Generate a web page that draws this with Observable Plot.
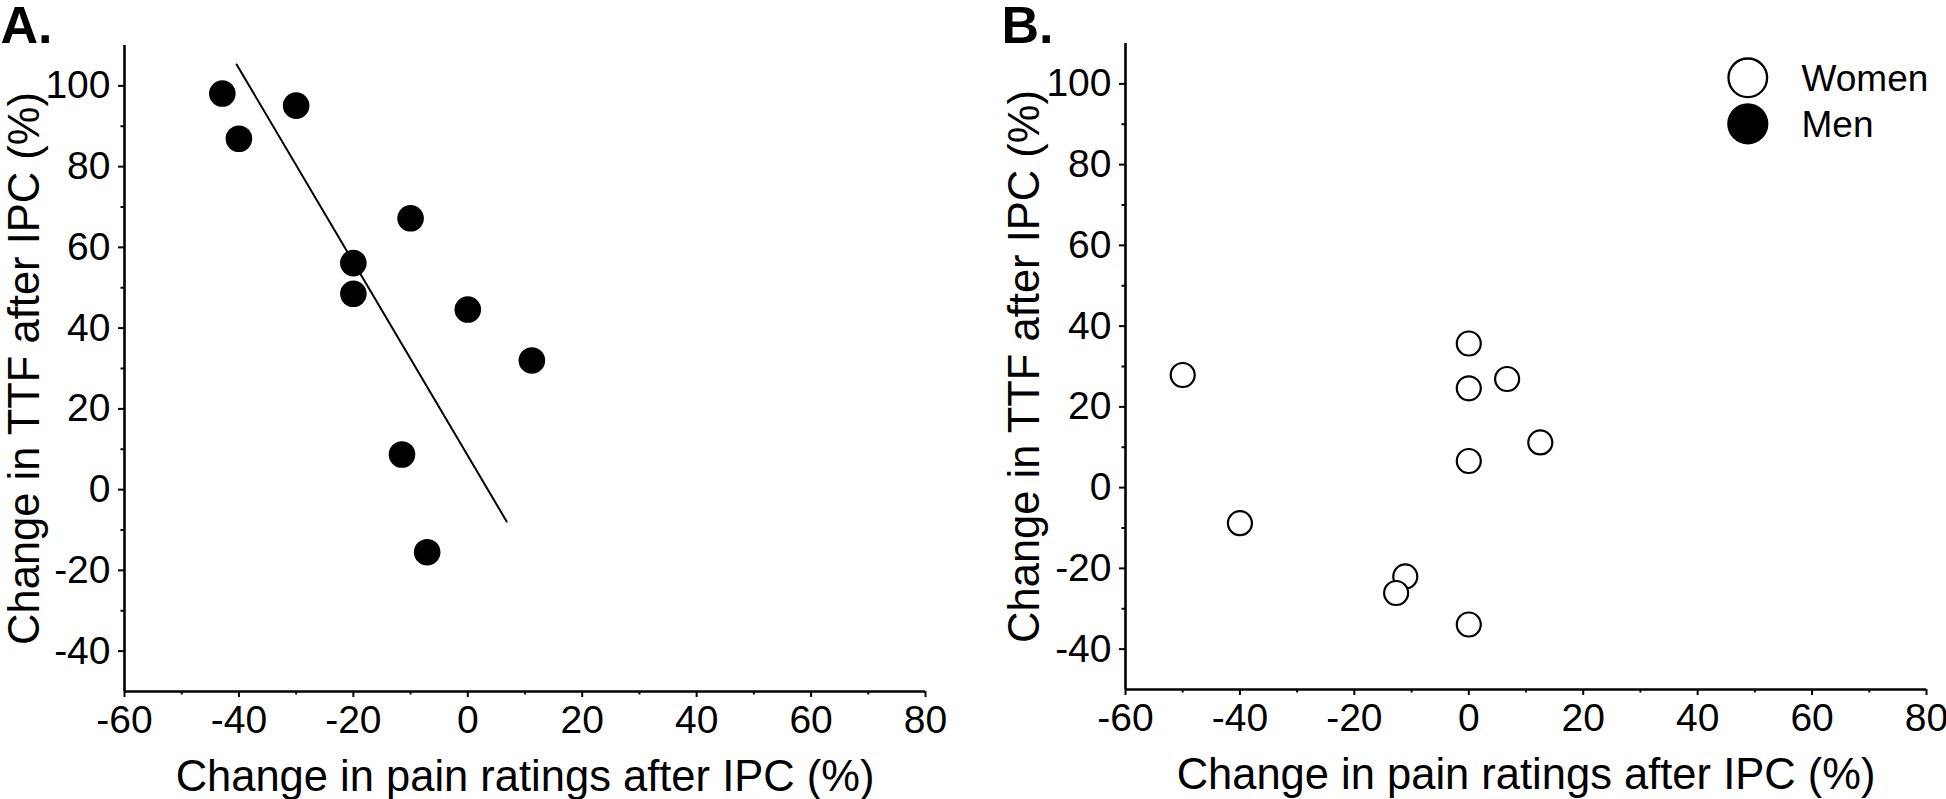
<!DOCTYPE html>
<html>
<head>
<meta charset="utf-8">
<script src="https://cdn.jsdelivr.net/npm/d3@7"></script>
<script src="https://cdn.jsdelivr.net/npm/@observablehq/plot@0.6"></script>
<style>
  html, body { margin: 0; padding: 0; background: #fff; }
  #wrap { position: relative; width: 1946px; height: 799px; overflow: hidden; background: #fff; }
  #panelA { position: absolute; left: 0; top: 0; }
  #panelB { position: absolute; left: 1000px; top: 0; }
</style>
</head>
<body>
<div id="wrap">
  <div id="panelA"></div>
  <div id="panelB"></div>
</div>
<script>
// ---- Data ----
const menPain = [-42.9, -40, -30, -10, -20, -20, 0, 11.2, -11.5, -7.1];
const menTTF  = [98.1, 86.9, 95.1, 67.2, 56.1, 48.5, 44.6, 32.0, 8.7, -15.5];

const womenPain = [-50, 0, 0, 6.7, 0, -40, -11.1, -12.7, 0, 12.5];
const womenTTF  = [27.9, 35.7, 24.6, 26.9, 6.6, -8.8, -22.0, -26.1, -33.9, 11.2];

// regression line endpoints (panel A)
const fitPain = [-40.4, 6.8];
const fitTTF  = [105.3, -7.9];

const xMajorTicks = [-60, -40, -20, 0, 20, 40, 60, 80];
const xMinorTicks = [-50, -30, -10, 10, 30, 50, 70];
const yMajorTicks = [-40, -20, 0, 20, 40, 60, 80, 100];
const yMinorTicks = [-30, -10, 10, 30, 50, 70, 90];

const xDomain = [-60, 80];
const yDomain = [-50, 110];

const xLabel = "Change in pain ratings after IPC (%)";
const yLabel = "Change in TTF after IPC (%)";
const legendLabels = ["Women", "Men"];

// ---- Tables ----
const men = menPain.map((p, i) => ({pain: p, ttf: menTTF[i]}));
const women = womenPain.map((p, i) => ({pain: p, ttf: womenTTF[i]}));
const fit = fitPain.map((p, i) => ({pain: p, ttf: fitTTF[i]}));

const FONT = "'Liberation Sans', Arial, Helvetica, sans-serif";
const fmt = d => String(d);
const TICK_FONT = 39;

function axes(labelDx) {
  return [
    Plot.ruleX([xDomain[0]], {stroke: "black", strokeWidth: 2.6}),
    Plot.ruleY([yDomain[0]], {stroke: "black", strokeWidth: 2.6}),
    Plot.axisX(xMajorTicks, {tickSize: 6, tickPadding: 8, strokeWidth: 2, fontSize: TICK_FONT, tickFormat: fmt, label: null}),
    Plot.axisX(xMinorTicks, {tickSize: 3.5, strokeWidth: 2, tickFormat: () => "", label: null}),
    Plot.axisY(yMajorTicks, {tickSize: 6, tickPadding: 8, strokeWidth: 2, fontSize: TICK_FONT, tickFormat: fmt, label: null}),
    Plot.axisY(yMinorTicks, {tickSize: 3.5, strokeWidth: 2, tickFormat: () => "", label: null}),
    Plot.text([xLabel], {frameAnchor: "bottom", textAnchor: "middle", lineAnchor: "bottom", dy: 99, fontSize: 43.5, fill: "black"}),
    Plot.text([yLabel], {frameAnchor: "left", textAnchor: "middle", rotate: -90, lineAnchor: "top", dx: labelDx, fontSize: 43.5, fill: "black"})
  ];
}

const common = {
  height: 799,
  x: {domain: xDomain},
  y: {domain: yDomain},
  style: {fontFamily: FONT, background: "white", color: "black", overflow: "visible"}
};

const plotA = Plot.plot({
  ...common,
  width: 1000,
  marginLeft: 124, marginRight: 75, marginTop: 45, marginBottom: 108,
  marks: [
    ...axes(-116),
    Plot.line(fit, {x: "pain", y: "ttf", stroke: "black", strokeWidth: 2}),
    Plot.dot(men, {x: "pain", y: "ttf", r: 13.3, fill: "black", stroke: "none"}),
    Plot.text(["A."], {frameAnchor: "top-left", textAnchor: "start", lineAnchor: "bottom", dx: -124, dy: -3, fontSize: 52, fontWeight: "bold", fill: "black"})
  ]
});

const plotB = Plot.plot({
  ...common,
  width: 946,
  marginLeft: 125, marginRight: 20, marginTop: 43, marginBottom: 110,
  marks: [
    ...axes(-117),
    Plot.dot(women, {x: "pain", y: "ttf", r: 12, fill: "white", stroke: "black", strokeWidth: 2.2}),
    Plot.text(["B."], {frameAnchor: "top-left", textAnchor: "start", lineAnchor: "bottom", dx: -124, dy: -1, fontSize: 52, fontWeight: "bold", fill: "black"}),
    // legend
    Plot.dot([legendLabels[0]], {frameAnchor: "top-right", dx: -178.7, dy: 34.3, r: 19.3, fill: "white", stroke: "black", strokeWidth: 2.3}),
    Plot.dot([legendLabels[1]], {frameAnchor: "top-right", dx: -178.7, dy: 80.3, r: 20.6, fill: "black", stroke: "none"}),
    Plot.text([legendLabels[0]], {frameAnchor: "top-right", textAnchor: "start", lineAnchor: "bottom", dx: -125, dy: 47.7, fontSize: 37, fill: "black"}),
    Plot.text([legendLabels[1]], {frameAnchor: "top-right", textAnchor: "start", lineAnchor: "bottom", dx: -125, dy: 93.7, fontSize: 37, fill: "black"})
  ]
});

document.getElementById("panelA").appendChild(plotA);
document.getElementById("panelB").appendChild(plotB);
</script>
</body>
</html>
